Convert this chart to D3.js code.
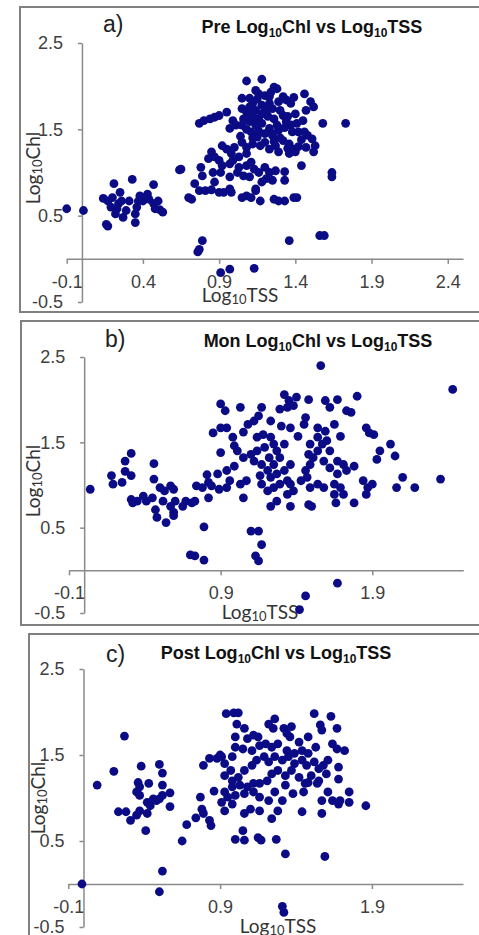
<!DOCTYPE html>
<html>
<head>
<meta charset="utf-8">
<script src="https://cdn.jsdelivr.net/npm/d3@7"></script>
<style>
    body { margin: 0; background: #fff; }
    svg { display: block; }
</style>
</head>
<body>
<div id="chart"></div>
<script>
// [Log10TSS, Log10Chl] pairs, one list per season
const prePoints = [
    [-0.10,0.58],[0.01,0.56],[0.14,0.70],[0.21,0.87],[0.17,0.38],[0.20,0.71],[0.24,0.64],[0.23,0.58],
    [0.27,0.48],[0.26,0.67],[0.19,0.60],[0.33,0.92],[0.31,0.67],[0.35,0.42],[0.36,0.60],[0.37,0.67],
    [0.35,0.52],[0.29,0.56],[0.40,0.67],[0.43,0.75],[0.47,0.86],[0.44,0.69],[0.47,0.64],[0.50,0.67],
    [0.51,0.57],[0.53,0.54],[0.48,0.58],[0.25,0.77],[0.17,0.67],[0.38,0.73],[0.64,1.03],[0.22,0.52],
    [0.16,0.40],
    [1.08,2.06],[1.18,2.08],[1.26,1.99],[1.28,1.97],[1.16,1.91],[1.20,1.89],[1.23,1.88],[1.46,1.91],
    [1.05,1.86],[1.10,1.86],[1.39,1.87],[1.34,1.84],[1.29,1.82],[1.50,1.82],[1.52,1.76],
    [0.77,1.57],[0.80,1.60],[0.84,1.62],[0.87,1.64],[0.90,1.66],[0.95,1.70],
    [0.99,1.60],[1.01,1.55],[0.97,1.51],[1.05,1.74],[1.08,1.70],[1.10,1.76],[1.12,1.66],[1.14,1.72],
    [1.16,1.62],[1.18,1.78],[1.21,1.70],[1.23,1.80],[1.25,1.74],[1.18,1.57],[1.23,1.51],[1.14,1.55],
    [1.10,1.59],[1.05,1.55],[1.11,1.47],[1.15,1.41],[1.20,1.45],[1.25,1.43],[1.29,1.49],[1.32,1.66],
    [1.34,1.59],[1.37,1.55],[1.40,1.68],[1.41,1.57],[1.38,1.47],[1.32,1.37],[1.27,1.31],[1.36,1.33],
    [1.39,1.27],[1.42,1.47],[1.46,1.47],[1.48,1.43],[1.51,1.39],[1.53,1.31],[1.47,1.29],[1.52,1.24],
    [1.40,1.24],[1.36,1.22],[1.29,1.24],[1.23,1.27],[1.17,1.31],[1.12,1.33],[1.08,1.29],[1.05,1.35],
    [1.08,1.22],[1.03,1.18],[1.00,1.29],[0.95,1.27],[0.92,1.31],[0.98,1.22],[0.85,1.24],[0.87,1.18],
    [0.83,1.16],[0.90,1.14],[0.92,1.08],[0.97,1.10],[0.99,1.14],[1.03,1.06],[1.08,1.08],[1.11,1.12],
    [1.13,1.04],[1.16,1.00],[1.20,1.06],[1.23,1.00],[1.27,1.02],[1.25,0.91],[1.21,0.93],[1.18,0.89],
    [1.14,0.81],[1.10,0.95],[1.06,0.96],[1.02,1.00],[0.97,0.95],[0.91,1.00],[0.86,1.00],[0.78,1.06],
    [0.79,0.96],[0.87,0.89],[0.74,0.87],[0.77,0.79],[0.81,0.79],[0.85,0.80],[0.90,0.77],[0.93,0.77],
    [0.97,0.81],[0.98,0.77],[1.05,0.71],[1.08,0.73],[1.11,0.71],[1.14,0.79],[1.17,0.67],[1.26,0.69],
    [1.29,0.67],[1.33,0.67],[1.39,0.71],[1.41,0.71],[1.33,0.91],[1.33,1.01],[1.44,1.08],[1.58,1.57],
    [1.73,1.57],[1.64,1.00],[1.64,0.95],[0.72,0.69],[0.70,0.71],[0.65,1.04],[0.79,0.21],[0.77,0.11],
    [0.76,0.08],[1.36,0.21],[1.56,0.27],[1.59,0.27],[0.91,-0.16],[0.97,-0.12],[1.13,-0.11],
    [1.12,1.80],[1.15,1.85],[1.20,1.75],[1.22,1.65],[1.10,1.68],[1.06,1.62],[1.13,1.62],[1.18,1.68],
    [1.26,1.62],[1.30,1.72],[1.28,1.55],[1.08,1.50],[1.16,1.48],[1.25,1.45],[1.33,1.52],[1.30,1.40],
    [1.12,1.40],[1.04,1.42],[1.20,1.35],[1.26,1.36],[1.44,1.38],[1.42,1.30],[1.35,1.28],[1.45,1.60],
    [1.37,1.80],[1.32,1.88],[1.24,1.93],[1.14,1.95],[1.47,1.72],[1.35,1.65]
];

const monPoints = [
    [0.04,0.95],[0.18,1.11],[0.19,1.01],[0.25,1.03],[0.31,1.11],[0.27,1.28],[0.31,1.37],[0.27,1.16],
    [0.31,0.83],[0.35,0.81],[0.39,0.87],[0.32,0.79],[0.41,0.81],[0.45,0.85],[0.46,1.25],[0.46,1.07],
    [0.47,0.71],[0.48,0.62],[0.50,0.97],[0.53,0.93],[0.57,0.99],[0.59,0.95],[0.52,0.81],[0.57,0.75],
    [0.54,0.56],[0.59,0.68],[0.59,0.64],[0.60,0.81],[0.65,0.75],[0.67,0.81],[0.71,0.79],[0.73,0.81],
    [0.70,0.18],[0.73,0.17],[0.79,0.12],[0.79,0.51],[0.74,0.99],[0.78,0.97],[0.81,1.12],[0.82,1.03],
    [0.82,0.85],[0.84,0.99],[0.89,0.95],[0.85,1.61],[0.90,1.95],[0.93,1.87],[0.90,1.38],[1.03,1.91],
    [1.10,0.46],[1.15,0.46],[1.17,0.30],[1.13,0.17],[1.15,0.11],[1.56,2.40],[2.43,2.12],[2.35,1.07],
    [2.18,0.97],[2.10,1.09],[2.06,0.97],[2.02,1.48],[1.95,1.40],[2.05,1.34],[1.86,1.67],[1.91,1.59],
    [1.88,1.61],[1.80,2.04],[1.76,1.85],[1.73,1.87],[1.67,-0.15],[1.46,-0.30],[1.42,-0.46],
    [1.17,1.91],[1.29,1.89],[1.32,2.06],[1.35,1.99],[1.40,2.03],[1.34,1.91],[1.38,1.93],[1.48,2.00],
    [1.59,1.99],[1.62,1.91],[1.67,2.00],[0.90,1.67],[0.94,1.67],[0.98,1.56],[0.99,1.46],[1.05,1.62],
    [1.08,1.71],[1.12,1.75],[1.15,1.81],[1.23,1.75],[1.30,1.69],[1.36,1.67],[1.41,1.57],[1.46,1.79],
    [1.45,1.71],[1.54,1.67],[1.59,1.63],[1.65,1.71],[1.69,1.57],[1.93,1.30],
    [1.14,1.56],[1.18,1.59],[1.23,1.56],[1.25,1.48],[1.19,1.44],[1.14,1.40],[1.10,1.36],[1.05,1.32],
    [1.12,1.28],[1.17,1.24],[1.22,1.32],[1.27,1.40],[1.32,1.48],[1.29,1.32],[1.25,1.24],[1.21,1.17],
    [1.16,1.11],[1.23,1.09],[1.27,1.13],[1.32,1.17],[1.36,1.24],[1.34,1.05],[1.29,1.01],[1.25,0.97],
    [1.21,0.93],[1.17,1.01],[1.36,1.01],[1.38,0.93],[1.43,1.05],[1.47,1.09],[1.46,1.17],[1.49,1.24],
    [1.51,1.32],[1.48,1.36],[1.54,1.40],[1.57,1.48],[1.49,1.48],[1.54,1.56],[1.60,1.52],[1.62,1.40],
    [1.58,1.28],[1.62,1.20],[1.67,1.28],[1.71,1.24],[1.73,1.17],[1.78,1.22],[1.67,1.13],[1.65,1.01],
    [1.69,0.97],[1.71,0.89],[1.65,0.89],[1.78,0.79],[1.84,1.05],[1.87,0.97],[1.90,1.01],[1.86,0.89],
    [1.58,0.97],[1.54,1.01],[1.49,0.97],[1.34,0.89],[1.27,0.81],[1.23,0.75],[1.36,0.75],[1.48,0.77],
    [1.50,0.75],[1.66,0.79],[0.99,1.22],[0.94,1.17],[0.96,1.05],[0.88,1.13],[0.94,0.97],[1.03,1.01],
    [1.07,1.05],[1.05,0.85],[1.01,1.40]
];

const postPoints = [
    [-0.01,0.00],[0.09,1.15],[0.20,1.31],[0.27,1.72],[0.23,0.84],[0.28,0.84],[0.31,0.74],[0.35,0.80],
    [0.37,0.85],[0.42,0.82],[0.38,1.37],[0.36,1.18],[0.37,1.13],[0.35,1.07],[0.37,1.03],[0.43,1.17],
    [0.42,0.95],[0.44,0.91],[0.46,0.99],[0.48,0.97],[0.50,0.99],[0.52,1.03],[0.41,0.62],[0.50,1.39],
    [0.52,1.29],[0.52,1.15],[0.57,1.06],[0.57,0.90],[0.52,0.15],[0.50,-0.09],[0.65,0.50],[0.68,0.69],
    [0.74,0.77],[0.77,1.01],[0.78,0.87],[0.79,0.82],[0.83,0.74],[0.84,0.68],[0.86,1.08],[0.79,1.38],
    [0.83,1.46],[0.88,1.46],[0.90,1.50],[1.31,-0.26],[1.32,-0.33],[1.33,0.35],[1.59,0.32],[1.86,0.91],
    [0.94,1.98],[0.99,1.99],[1.02,1.99],[1.52,1.98],[1.63,1.95],
    [1.01,1.86],[1.06,1.81],[1.00,1.71],[1.08,1.69],[1.12,1.73],[1.15,1.71],[1.22,1.86],[1.26,1.92],
    [1.25,1.81],[1.32,1.81],[1.34,1.75],[1.37,1.83],[1.36,1.71],[1.42,1.65],[1.48,1.71],[1.56,1.85],
    [1.57,1.79],[1.67,1.81],[1.64,1.63],[1.67,1.57],[1.72,1.55],[1.53,1.59],[1.48,1.52],[1.44,1.55],
    [1.39,1.52],[1.34,1.55],[1.28,1.63],[1.24,1.59],[1.20,1.63],[1.16,1.61],[1.11,1.55],[1.05,1.57],
    [1.00,1.59],[0.98,1.48],[0.91,1.48],[0.93,1.40],[0.97,1.32],[0.93,1.26],[0.98,1.20],[1.02,1.24],
    [1.06,1.32],[1.11,1.38],[1.14,1.44],[1.19,1.48],[1.22,1.42],[1.26,1.48],[1.31,1.44],[1.35,1.48],
    [1.39,1.40],[1.44,1.44],[1.47,1.38],[1.52,1.42],[1.55,1.34],[1.58,1.38],[1.61,1.44],[1.68,1.36],
    [1.60,1.28],[1.68,1.22],[1.55,1.20],[1.50,1.26],[1.46,1.17],[1.42,1.24],[1.37,1.32],[1.33,1.26],
    [1.28,1.32],[1.24,1.28],[1.21,1.20],[1.16,1.17],[1.12,1.17],[1.08,1.13],[1.03,1.15],[0.98,1.13],
    [0.93,1.07],[0.95,1.01],[1.00,1.03],[1.06,1.05],[1.12,1.07],[1.16,1.01],[1.22,0.97],[1.26,1.07],
    [1.31,0.97],[1.33,1.15],[1.38,1.05],[1.45,1.07],[1.48,1.18],[1.54,1.17],[1.61,1.07],[1.64,0.97],
    [1.57,0.97],[1.69,0.97],[1.75,1.07],[1.75,0.95],[1.68,0.93],[1.57,0.82],[1.44,0.84],[1.28,0.85],
    [1.24,0.76],[1.16,0.85],[1.10,0.87],[1.06,0.82],[0.98,0.93],[0.91,0.95],[0.93,0.85],[1.05,0.62],
    [1.00,0.52],[1.06,0.51],[1.15,0.54],[1.17,0.51],[1.27,0.52]
];

const preXTicks = [-0.1, 0.4, 0.9, 1.4, 1.9, 2.4];
const monXTicks = [-0.1, 0.9, 1.9];
const postXTicks = [-0.1, 0.9, 1.9];
const yTicks = [2.5, 1.5, 0.5, -0.5];

const xDomain = [-0.1, 2.5];
const yDomain = [-0.5, 2.5];

const panelLabels = ['a)', 'b)', 'c)'];
const panelTitles = [
    'Pre Log{10}Chl vs Log{10}TSS',
    'Mon Log{10}Chl vs Log{10}TSS',
    'Post Log{10}Chl vs Log{10}TSS'
];

// where each screenshot panel sits on the page
const layout = [
    { frame: [20, 7, 480, 305], xRange: [66.7, 463], yRange: [302, 43],
      title: [312, 33], label: [103, 32], xTitle: [240, 302], yTitle: [33, 168] },
    { frame: [21, 321, 480, 304], xRange: [69, 463.3], yRange: [613, 357],
      title: [318, 347], label: [105, 347], xTitle: [260, 619], yTitle: [33, 481] },
    { frame: [29, 634, 480, 320], xRange: [68.3, 463], yRange: [927, 669],
      title: [276, 659], label: [106, 662], xTitle: [278, 933], yTitle: [38, 798] }
];

const svg = d3.select('#chart')
    .append('svg')
    .attr('width', 479)
    .attr('height', 935);

// plain hyphen for negatives, as in the original
const tickFmt = d => d.toFixed(1);

// text like "Log{10}Chl" -> tspans with subscripts
function richText(text, str, subSize, shift) {
    str.split(/\{(\d+)\}/).forEach((part, i) => {
        if (!part) return;
        const t = text.append('tspan').text(part);
        if (i % 2) t.attr('font-size', subSize).attr('dy', shift);
        else if (i > 0) t.attr('dy', -shift);
    });
}

function drawPanel(p, points, xTicks, label, title) {
    const g = svg.append('g');

    g.append('rect')
        .attr('x', p.frame[0]).attr('y', p.frame[1])
        .attr('width', p.frame[2]).attr('height', p.frame[3])
        .attr('fill', 'none')
        .attr('stroke', '#808080')
        .attr('stroke-width', 2);

    const x = d3.scaleLinear().domain(xDomain).range(p.xRange);
    const y = d3.scaleLinear().domain(yDomain).range(p.yRange);

    const axisX = g.append('g')
        .attr('transform', `translate(0, ${y(0)})`)
        .call(d3.axisBottom(x).tickValues(xTicks).tickSize(5).tickSizeOuter(0).tickPadding(11)
            .tickFormat(tickFmt));

    const axisY = g.append('g')
        .attr('transform', `translate(${x(0)}, 0)`)
        .call(d3.axisLeft(y).tickValues(yTicks).tickSize(4).tickSizeOuter(0).tickPadding(15)
            .tickFormat(tickFmt));

    [axisX, axisY].forEach(a => {
        a.selectAll('path, line').attr('stroke', '#8a8a8a').attr('stroke-width', 1.5);
        a.selectAll('text')
            .attr('fill', '#404040')
            .style('font-family', '"Liberation Sans", Arial, sans-serif')
            .style('font-size', '18px');
    });

    g.append('text')
        .attr('x', p.label[0]).attr('y', p.label[1])
        .attr('font-family', '"Liberation Sans", Arial, sans-serif')
        .attr('font-size', 23)
        .attr('fill', '#222')
        .text(label);

    const t = g.append('text')
        .attr('x', p.title[0]).attr('y', p.title[1])
        .attr('text-anchor', 'middle')
        .attr('font-family', '"Liberation Sans", Arial, sans-serif')
        .attr('font-weight', 'bold')
        .attr('font-size', 18)
        .attr('fill', '#111');
    richText(t, title, 12, 4);

    const xt = g.append('text')
        .attr('x', p.xTitle[0]).attr('y', p.xTitle[1])
        .attr('text-anchor', 'middle')
        .attr('font-family', 'Lato, "Open Sans", sans-serif')
        .attr('font-size', 19)
        .attr('fill', '#333');
    richText(xt, 'Log{10}TSS', 13, 2);

    const yt = g.append('text')
        .attr('transform', `translate(${p.yTitle[0]}, ${p.yTitle[1]}) rotate(-90)`)
        .attr('text-anchor', 'middle')
        .attr('dy', '0.35em')
        .attr('font-family', 'Lato, "Open Sans", sans-serif')
        .attr('font-size', 19)
        .attr('fill', '#333');
    richText(yt, 'Log{10}Chl', 13, 2);

    g.append('g')
        .selectAll('circle')
        .data(points)
        .join('circle')
        .attr('cx', d => x(d[0]))
        .attr('cy', d => y(d[1]))
        .attr('r', 4.4)
        .attr('fill', '#0b0b86');
}

drawPanel(layout[0], prePoints, preXTicks, panelLabels[0], panelTitles[0]);
drawPanel(layout[1], monPoints, monXTicks, panelLabels[1], panelTitles[1]);
drawPanel(layout[2], postPoints, postXTicks, panelLabels[2], panelTitles[2]);
</script>
</body>
</html>
